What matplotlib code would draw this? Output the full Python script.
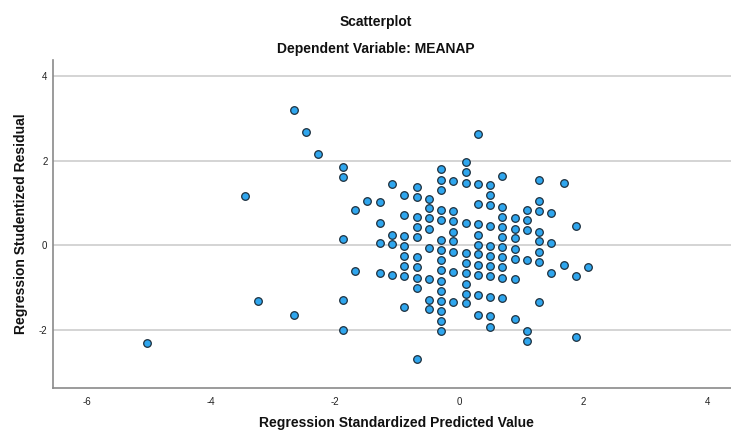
import matplotlib
matplotlib.use("Agg")
import matplotlib.pyplot as plt

plt.rcParams['font.family'] = ['Liberation Sans', 'DejaVu Sans']

# Predicted-value columns (x) and studentized residuals (y)
outlier_x = [-5.04, -3.45, -3.25, -2.66, -2.66, -2.47, -2.27]
outlier_y = [-2.32, 1.17, -1.33, 3.20, -1.66, 2.68, 2.15]

column_x = [-1.87, -1.68, -1.48, -1.28, -1.08, -0.89, -0.69, -0.49, -0.29,
            -0.10, 0.10, 0.30, 0.50, 0.69, 0.89, 1.09, 1.29, 1.48, 1.68,
            1.88, 2.08]
column_y = [
    [1.84, 1.60, 0.15, -1.30, -2.01],
    [0.84, -0.61],
    [1.04],
    [1.01, 0.53, 0.05, -0.67],
    [1.45, 0.25, 0.02, -0.70],
    [1.18, 0.70, 0.22, -0.02, -0.26, -0.50, -0.74, -1.46],
    [1.38, 1.14, 0.66, 0.42, 0.19, -0.29, -0.53, -0.77, -1.01, -2.69],
    [1.10, 0.87, 0.63, 0.39, -0.08, -0.81, -1.29, -1.52],
    [1.79, 1.55, 1.31, 0.83, 0.60, 0.12, -0.12, -0.36, -0.60, -0.84, -1.09,
     -1.32, -1.56, -1.80, -2.03],
    [1.52, 0.80, 0.57, 0.32, 0.09, -0.16, -0.64, -1.35],
    [1.96, 1.72, 1.48, 0.53, -0.19, -0.43, -0.67, -0.91, -1.15, -1.38],
    [2.64, 1.45, 0.97, 0.50, 0.25, 0.01, -0.22, -0.46, -0.71, -1.18, -1.66],
    [1.42, 1.18, 0.94, 0.46, -0.02, -0.26, -0.50, -0.74, -1.22, -1.69, -1.93],
    [1.63, 0.91, 0.67, 0.43, 0.19, -0.05, -0.29, -0.53, -0.77, -1.25],
    [0.64, 0.39, 0.16, -0.09, -0.32, -0.81, -1.76],
    [0.84, 0.60, 0.36, -0.36, -2.04, -2.28],
    [1.53, 1.05, 0.81, 0.32, 0.09, -0.16, -0.40, -1.35],
    [0.77, 0.05, -0.67],
    [1.46, -0.46],
    [0.46, -0.74, -2.18],
    [-0.53],
]

x_ticks = [-6, -4, -2, 0, 2, 4]
y_ticks = [-2, 0, 2, 4]

xs = list(outlier_x)
ys = list(outlier_y)
for cx, col in zip(column_x, column_y):
    xs.extend([cx] * len(col))
    ys.extend(col)

fig = plt.figure(figsize=(7.31, 4.30), dpi=100)
ax = fig.add_axes([53 / 731, (430 - 388.3) / 430, 1 - 53 / 731, (388.3 - 60) / 430])

ax.set_xlim(-6.55, 4.38)
ax.set_ylim(-3.39, 4.38)

for yv in y_ticks:
    ax.axhline(yv, color='#d4d4d4', linewidth=1.4, zorder=1)

ax.scatter(xs, ys, s=30, facecolor='#2fa6ee', edgecolor='#1d2f3d',
           linewidth=0.9, zorder=3)

ax.set_xticks(x_ticks)
ax.set_yticks(y_ticks)
ax.set_xticklabels([str(t) for t in x_ticks])
ax.set_yticklabels([str(t) for t in y_ticks])
ax.tick_params(length=0, labelsize=7, colors='#222222')
ax.tick_params(axis='x', pad=6)
ax.tick_params(axis='y', pad=4)

for side in ['top', 'right']:
    ax.spines[side].set_visible(False)
for side in ['left', 'bottom']:
    ax.spines[side].set_color('#8a8a8a')
    ax.spines[side].set_linewidth(1.2)

fig.text(376 / 731, 1 - 22 / 430, 'Scatterplot', ha='center', va='center',
         fontsize=10, fontweight='bold', color='#111111')
fig.text(376 / 731, 1 - 49 / 430, 'Dependent Variable: MEANAP', ha='center',
         va='center', fontsize=10, fontweight='bold', color='#111111')
fig.text(396 / 731, 1 - 423 / 430, 'Regression Standardized Predicted Value',
         ha='center', va='center', fontsize=10, fontweight='bold', color='#111111')
fig.text(21 / 731, 1 - 224 / 430, 'Regression Studentized Residual',
         ha='center', va='center', rotation=90, fontsize=10, fontweight='bold',
         color='#111111')

fig.savefig('out.png', dpi=100)
